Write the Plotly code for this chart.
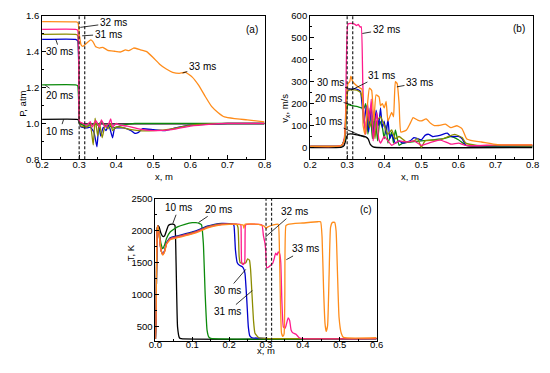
import plotly.graph_objects as go

# ---------------- data: panel (a) pressure ----------------
pa_10_x = [0.2, 0.293, 0.298, 0.300, 0.303, 0.31, 0.8]
pa_10_y = [1.023, 1.023, 1.02, 1.005, 0.998, 0.998, 0.998]

pa_20_x = [0.2, 0.29, 0.296, 0.299, 0.301, 0.31, 0.32, 0.33, 0.34, 0.35, 0.36, 0.37, 0.38, 0.39, 0.40, 0.42, 0.45, 0.5, 0.55, 0.8]
pa_20_y = [1.215, 1.215, 1.21, 1.1, 1.0, 0.99, 0.985, 0.99, 1.0, 0.99, 1.01, 0.985, 0.99, 0.975, 0.98, 0.99, 1.0, 1.0, 1.0, 1.0]

pa_30_x = [0.2, 0.29, 0.296, 0.299, 0.301, 0.305, 0.32, 0.33, 0.34, 0.348, 0.353, 0.358, 0.365, 0.372, 0.38, 0.39, 0.395, 0.40, 0.42, 0.44, 0.45, 0.46, 0.47, 0.5, 0.53, 0.56, 0.6, 0.65, 0.7, 0.8]
pa_30_y = [1.468, 1.468, 1.46, 1.3, 1.0, 0.98, 0.975, 0.98, 0.95, 0.87, 0.99, 0.93, 0.98, 0.96, 0.99, 0.92, 0.97, 0.975, 0.975, 0.96, 0.945, 0.95, 0.97, 0.965, 0.96, 0.975, 0.99, 0.995, 1.0, 1.0]

pa_31_x = [0.2, 0.29, 0.296, 0.299, 0.301, 0.305, 0.32, 0.33, 0.338, 0.343, 0.35, 0.355, 0.362, 0.37, 0.378, 0.385, 0.39, 0.40, 0.42, 0.44, 0.46, 0.5, 0.55, 0.6, 0.7, 0.8]
pa_31_y = [1.496, 1.496, 1.49, 1.3, 1.0, 0.985, 0.98, 0.99, 0.88, 1.03, 0.93, 1.0, 0.92, 0.99, 0.97, 1.0, 0.96, 0.98, 0.975, 0.965, 0.96, 0.96, 0.97, 0.99, 1.0, 1.0]

pa_32_x = [0.2, 0.29, 0.296, 0.299, 0.301, 0.31, 0.32, 0.33, 0.335, 0.345, 0.355, 0.36, 0.37, 0.38, 0.385, 0.39, 0.40, 0.41, 0.43, 0.46, 0.5, 0.55, 0.6, 0.65, 0.7, 0.8]
pa_32_y = [1.524, 1.524, 1.52, 1.3, 1.01, 1.0, 0.99, 1.01, 0.98, 1.015, 0.98, 1.02, 0.98, 1.0, 1.025, 0.98, 1.0, 0.99, 0.985, 0.97, 0.96, 0.965, 0.985, 0.995, 1.0, 1.0]

pa_33_x = [0.2, 0.292, 0.297, 0.300, 0.305, 0.31, 0.32, 0.331, 0.337, 0.344, 0.355, 0.364, 0.377, 0.395, 0.412, 0.425, 0.434, 0.447, 0.465, 0.482, 0.5, 0.517, 0.535, 0.552, 0.57, 0.587, 0.605, 0.622, 0.64, 0.657, 0.675, 0.692, 0.719, 0.753, 0.8]
pa_33_y = [1.567, 1.565, 1.56, 1.5, 1.438, 1.429, 1.447, 1.465, 1.456, 1.429, 1.42, 1.424, 1.407, 1.402, 1.398, 1.41, 1.405, 1.42, 1.41, 1.40, 1.366, 1.33, 1.303, 1.285, 1.279, 1.285, 1.258, 1.213, 1.15, 1.095, 1.06, 1.036, 1.027, 1.02, 1.009]

# ---------------- data: panel (b) velocity ----------------
vb_10_x = [0.2, 0.27, 0.285, 0.292, 0.297, 0.302, 0.31, 0.33, 0.35, 0.357, 0.362, 0.37, 0.38, 0.8]
vb_10_y = [0, 0, 2, 10, 40, 60, 62, 56, 48, 38, 15, 3, 0, 0]

vb_20_x = [0.2, 0.27, 0.285, 0.293, 0.298, 0.302, 0.31, 0.33, 0.345, 0.35, 0.356, 0.362, 0.368, 0.375, 0.382, 0.388, 0.395, 0.40, 0.405, 0.41, 0.42, 0.425, 0.43, 0.44, 0.45, 0.47, 0.5, 0.53, 0.56, 0.58, 0.6, 0.62, 0.65, 0.7, 0.8]
vb_20_y = [5, 5, 8, 30, 150, 195, 192, 185, 178, 200, 60, 180, 40, 150, 30, 120, 90, 40, 100, 20, 70, 20, 80, 10, 20, 25, 30, 35, 40, 50, 35, 10, 5, 5, 5]

vb_30_x = [0.2, 0.27, 0.285, 0.293, 0.298, 0.302, 0.31, 0.32, 0.33, 0.336, 0.34, 0.345, 0.352, 0.358, 0.365, 0.372, 0.378, 0.385, 0.39, 0.395, 0.40, 0.405, 0.41, 0.415, 0.42, 0.43, 0.44, 0.45, 0.47, 0.48, 0.49, 0.5, 0.51, 0.52, 0.53, 0.55, 0.57, 0.58, 0.6, 0.61, 0.62, 0.65, 0.7, 0.8]
vb_30_y = [5, 5, 8, 40, 200, 262, 265, 268, 262, 255, 200, 110, 190, 70, 185, 60, 170, 100, 180, 90, 120, 60, 130, 40, 60, 20, 30, 20, 30, 45, 40, 35, 55, 60, 50, 55, 65, 50, 50, 40, 10, 8, 8, 8]

vb_31_x = [0.2, 0.27, 0.285, 0.293, 0.298, 0.302, 0.31, 0.32, 0.33, 0.336, 0.34, 0.345, 0.35, 0.355, 0.36, 0.37, 0.375, 0.38, 0.39, 0.40, 0.41, 0.42, 0.43, 0.44, 0.46, 0.48, 0.49, 0.5, 0.51, 0.55, 0.59, 0.61, 0.62, 0.65, 0.8]
vb_31_y = [5, 5, 8, 40, 200, 258, 262, 262, 258, 250, 230, 150, 60, 180, 90, 140, 40, 120, 140, 100, 60, 80, 40, 50, 25, 30, 40, 0, 30, 35, 60, 45, 20, 10, 8]

vb_32_x = [0.2, 0.27, 0.285, 0.29, 0.295, 0.298, 0.302, 0.31, 0.32, 0.325, 0.33, 0.335, 0.338, 0.342, 0.345, 0.35, 0.355, 0.36, 0.365, 0.37, 0.375, 0.38, 0.385, 0.39, 0.40, 0.41, 0.42, 0.44, 0.46, 0.48, 0.5, 0.52, 0.55, 0.58, 0.6, 0.62, 0.65, 0.7, 0.8]
vb_32_y = [5, 5, 10, 20, 100, 400, 562, 565, 562, 555, 560, 548, 550, 300, 150, 60, 200, 120, 220, 30, 100, 160, 40, 20, 50, 30, 10, 30, 25, 30, 10, 20, 35, 15, 20, 10, 8, 12, 12]

vb_33_x = [0.2, 0.27, 0.285, 0.292, 0.298, 0.302, 0.307, 0.31, 0.315, 0.32, 0.33, 0.34, 0.343, 0.348, 0.355, 0.36, 0.366, 0.372, 0.378, 0.386, 0.39, 0.395, 0.40, 0.405, 0.41, 0.42, 0.425, 0.43, 0.435, 0.44, 0.445, 0.46, 0.47, 0.478, 0.49, 0.5, 0.513, 0.525, 0.535, 0.547, 0.565, 0.58, 0.596, 0.61, 0.622, 0.64, 0.662, 0.705, 0.8]
vb_33_y = [5, 5, 10, 30, 220, 290, 300, 325, 300, 290, 275, 265, 100, 60, 200, 270, 260, 120, 240, 230, 190, 200, 180, 210, 120, 160, 140, 300, 290, 200, 70, 80, 110, 136, 125, 121, 130, 110, 100, 100, 106, 90, 99, 85, 40, 30, 25, 13, 12]

# ---------------- data: panel (c) temperature ----------------
tc_10_x = [0.0, 0.002, 0.004, 0.006, 0.01, 0.015, 0.02, 0.025, 0.03, 0.035, 0.04, 0.05, 0.053, 0.056, 0.06, 0.065, 0.07, 0.6]
tc_10_y = [310, 800, 1900, 2080, 2060, 1960, 1910, 1920, 2000, 2080, 2100, 2100, 2080, 1500, 500, 330, 315, 315]

tc_20_x = [0.0, 0.002, 0.004, 0.006, 0.01, 0.015, 0.02, 0.025, 0.03, 0.04, 0.06, 0.08, 0.1, 0.11, 0.12, 0.125, 0.13, 0.135, 0.14, 0.145, 0.15, 0.6]
tc_20_y = [310, 800, 1900, 2080, 2000, 1800, 1720, 1780, 1880, 1980, 2060, 2100, 2125, 2125, 2110, 2090, 1800, 1000, 450, 340, 320, 315]

tc_30_x = [0.0, 0.002, 0.004, 0.006, 0.01, 0.015, 0.02, 0.025, 0.03, 0.04, 0.06, 0.08, 0.1, 0.12, 0.14, 0.16, 0.18, 0.2, 0.21, 0.213, 0.217, 0.222, 0.228, 0.235, 0.24, 0.243, 0.248, 0.252, 0.256, 0.262, 0.3, 0.6]
tc_30_y = [310, 800, 1900, 2080, 1950, 1700, 1630, 1690, 1810, 1890, 1920, 1950, 1980, 2020, 2070, 2100, 2115, 2110, 2100, 2080, 1700, 1500, 1460, 1440, 1400, 1330, 900, 500, 360, 330, 320, 315]

tc_31_x = [0.0, 0.002, 0.004, 0.006, 0.01, 0.015, 0.02, 0.025, 0.03, 0.04, 0.06, 0.08, 0.1, 0.12, 0.14, 0.16, 0.18, 0.2, 0.22, 0.224, 0.227, 0.23, 0.24, 0.245, 0.25, 0.255, 0.258, 0.262, 0.266, 0.27, 0.28, 0.3, 0.31, 0.6]
tc_31_y = [310, 800, 1900, 2080, 1950, 1700, 1630, 1685, 1800, 1880, 1910, 1940, 1970, 2010, 2060, 2090, 2105, 2105, 2100, 2050, 1600, 1500, 1490, 1500, 1560, 1540, 1400, 1000, 600, 400, 330, 320, 315, 315]

tc_32_x = [0.0, 0.002, 0.004, 0.006, 0.01, 0.015, 0.02, 0.025, 0.03, 0.04, 0.06, 0.08, 0.1, 0.12, 0.14, 0.16, 0.18, 0.2, 0.23, 0.232, 0.234, 0.238, 0.242, 0.244, 0.247, 0.28, 0.289, 0.293, 0.297, 0.299, 0.302, 0.306, 0.312, 0.318, 0.322, 0.326, 0.33, 0.333, 0.337, 0.34, 0.343, 0.347, 0.352, 0.356, 0.36, 0.364, 0.368, 0.372, 0.382, 0.39, 0.4, 0.6]
tc_32_y = [310, 800, 1900, 2080, 1950, 1700, 1630, 1680, 1795, 1870, 1900, 1930, 1960, 2000, 2050, 2080, 2100, 2100, 2100, 2080, 1500, 1470, 1500, 2080, 2100, 2100, 2090, 1920, 1810, 1700, 1420, 1430, 1460, 1490, 1560, 1650, 1620, 1670, 1640, 1500, 900, 500, 480, 560, 640, 600, 450, 410, 380, 330, 315, 315]

tc_33_x = [0.0, 0.002, 0.004, 0.006, 0.01, 0.015, 0.02, 0.025, 0.03, 0.04, 0.06, 0.08, 0.1, 0.12, 0.14, 0.16, 0.18, 0.2, 0.22, 0.238, 0.24, 0.243, 0.28, 0.29, 0.295, 0.3, 0.305, 0.32, 0.333, 0.336, 0.339, 0.342, 0.346, 0.349, 0.351, 0.354, 0.36, 0.4, 0.44, 0.448, 0.452, 0.456, 0.46, 0.463, 0.467, 0.471, 0.475, 0.48, 0.486, 0.49, 0.494, 0.498, 0.504, 0.51, 0.6]
tc_33_y = [310, 800, 1900, 2080, 1950, 1700, 1620, 1670, 1785, 1860, 1890, 1920, 1950, 1990, 2040, 2070, 2090, 2100, 2100, 2090, 2040, 2100, 2100, 2080, 2070, 2040, 2060, 2090, 2100, 1800, 900, 400, 350, 390, 1000, 2080, 2100, 2120, 2140, 2140, 1900, 1100, 550, 430, 520, 1300, 2050, 2130, 2130, 2000, 1300, 650, 400, 335, 330]

labels = ["10 ms", "20 ms", "30 ms", "31 ms", "32 ms", "33 ms"]
colors = ["#000000", "#0b8a0b", "#0000cc", "#8c8c00", "#ff1a8c", "#ff8c1a"]

pa = [(pa_10_x, pa_10_y), (pa_20_x, pa_20_y), (pa_30_x, pa_30_y), (pa_31_x, pa_31_y), (pa_32_x, pa_32_y), (pa_33_x, pa_33_y)]
vb = [(vb_10_x, vb_10_y), (vb_20_x, vb_20_y), (vb_30_x, vb_30_y), (vb_31_x, vb_31_y), (vb_32_x, vb_32_y), (vb_33_x, vb_33_y)]
tc = [(tc_10_x, tc_10_y), (tc_20_x, tc_20_y), (tc_30_x, tc_30_y), (tc_31_x, tc_31_y), (tc_32_x, tc_32_y), (tc_33_x, tc_33_y)]

dash_x = [0.30, 0.315]

W, H = 550, 373
fig = go.Figure()

panels = [("x", "y", pa), ("x2", "y2", vb), ("x3", "y3", tc)]
for xa, ya, data in panels:
    for (xs, ys), name, c in zip(data, labels, colors):
        fig.add_trace(go.Scatter(x=xs, y=ys, mode="lines", name=name, xaxis=xa, yaxis=ya,
                                 line=dict(color=c, width=1.3, shape="spline", smoothing=0.4),
                                 showlegend=False, hoverinfo="skip"))
    for dx in dash_x:
        fig.add_shape(type="line", xref=xa, yref=ya + " domain", x0=dx, x1=dx, y0=0, y1=1,
                      line=dict(color="#222222", width=1.2, dash="3px,2px"))

FONT = "Liberation Sans, Arial, sans-serif"
tickfont = dict(family=FONT, size=9.5, color="black")

def px_dom(a, b, total):
    return [a / total, b / total]

def axis_common(**kw):
    d = dict(showline=True, linecolor="black", linewidth=1, mirror=True, ticks="inside",
             ticklen=4, tickwidth=1, tickcolor="black", showgrid=False, zeroline=False,
             tickfont=tickfont, fixedrange=True,
             minor=dict(ticks="inside", ticklen=2, tickwidth=1, tickcolor="black", showgrid=False))
    d.update(kw)
    return d

ydom_top = [1 - 158 / H, 1 - 10 / H]
ydom_bot = [1 - 345 / H, 1 - 198.5 / H]

fig.update_layout(
    width=W, height=H, margin=dict(l=0, r=0, t=0, b=0),
    paper_bgcolor="white", plot_bgcolor="white",
    xaxis=axis_common(domain=px_dom(36, 264.3, W), range=[0.2, 0.8], dtick=0.1, tick0=0.2,
                      tickformat=".1f", anchor="y", minor_dtick=0.05, ticklabelstandoff=-4),
    yaxis=axis_common(domain=ydom_top, range=[0.8, 1.6], dtick=0.2, tick0=0.8,
                      tickformat=".1f", anchor="x", minor_dtick=0.1),
    xaxis2=axis_common(domain=px_dom(311, 539.3, W), range=[0.2, 0.8], dtick=0.1, tick0=0.2,
                       tickformat=".1f", anchor="y2", minor_dtick=0.05, ticklabelstandoff=-4),
    yaxis2=axis_common(domain=ydom_top, range=[-54, 600], dtick=100, tick0=0,
                       anchor="x2", minor_dtick=50),
    xaxis3=axis_common(domain=px_dom(152.3, 379.3, W), range=[0.0, 0.6], dtick=0.1, tick0=0,
                       tickformat=".1f", anchor="y3", minor_dtick=0.05, ticklabelstandoff=-5),
    yaxis3=axis_common(domain=ydom_bot, range=[282, 2500], dtick=500, tick0=500,
                       anchor="x3", minor_dtick=250),
)

afont = dict(family=FONT, size=10, color="black")
tfont = dict(family=FONT, size=9.5, color="black")

def lab(xa, ya, text, tx, ty, ax=None, ay=None):
    if ax is None:
        fig.add_annotation(xref=xa, yref=ya, x=tx, y=ty, text=text, showarrow=False, font=afont)
    else:
        fig.add_annotation(xref=xa, yref=ya, x=ax, y=ay, ax=tx, ay=ty, axref=xa, ayref=ya,
                           text=text, showarrow=True, arrowhead=0, arrowwidth=0.8,
                           arrowcolor="black", standoff=0, startstandoff=0, font=afont)

# panel (a) labels
lab("x", "y", "32 ms", 0.392, 1.56, 0.303, 1.535)
lab("x", "y", "31 ms", 0.378, 1.497, 0.308, 1.488)
lab("x", "y", "30 ms", 0.248, 1.40, 0.237, 1.468)
lab("x", "y", "20 ms", 0.248, 1.157, 0.209, 1.212)
lab("x", "y", "10 ms", 0.248, 0.957, 0.258, 1.022)
lab("x", "y", "33 ms", 0.632, 1.315, 0.579, 1.281)
lab("x", "y", "(a)", 0.766, 1.524)

# panel (b) labels
lab("x2", "y2", "32 ms", 0.405, 538, 0.341, 519)
lab("x2", "y2", "31 ms", 0.392, 330, 0.311, 261)
lab("x2", "y2", "30 ms", 0.254, 295, 0.314, 264)
lab("x2", "y2", "20 ms", 0.25, 224, 0.311, 195)
lab("x2", "y2", "10 ms", 0.25, 118, 0.346, 47)
lab("x2", "y2", "33 ms", 0.495, 295, 0.434, 276)
lab("x2", "y2", "(b)", 0.764, 541)

# panel (c) labels
lab("x3", "y3", "10 ms", 0.063, 2358, 0.047, 2110)
lab("x3", "y3", "20 ms", 0.170, 2333, 0.117, 2128)
lab("x3", "y3", "32 ms", 0.377, 2297, 0.298, 1900)
lab("x3", "y3", "33 ms", 0.408, 1715, 0.355, 1548)
lab("x3", "y3", "30 ms", 0.196, 1067, 0.245, 1396)
lab("x3", "y3", "31 ms", 0.196, 738, 0.263, 1067)
lab("x3", "y3", "(c)", 0.571, 2333)

# axis titles
def title(text, px, py, angle=0):
    fig.add_annotation(xref="paper", yref="paper", x=px / W, y=1 - py / H, text=text,
                       showarrow=False, textangle=angle, font=tfont)

title("P, atm", 8, 85, -90)
title("x, m", 150, 176)
title("v<sub>x</sub>, m/s", 285, 88, -90)
title("x, m", 425, 176)
title("T, K", 119, 265, -90)
title("x, m", 266, 363)

fig.write_html("out.html", config={"displayModeBar": False},
               post_script="document.body.style.margin='0';document.body.style.padding='0';")
